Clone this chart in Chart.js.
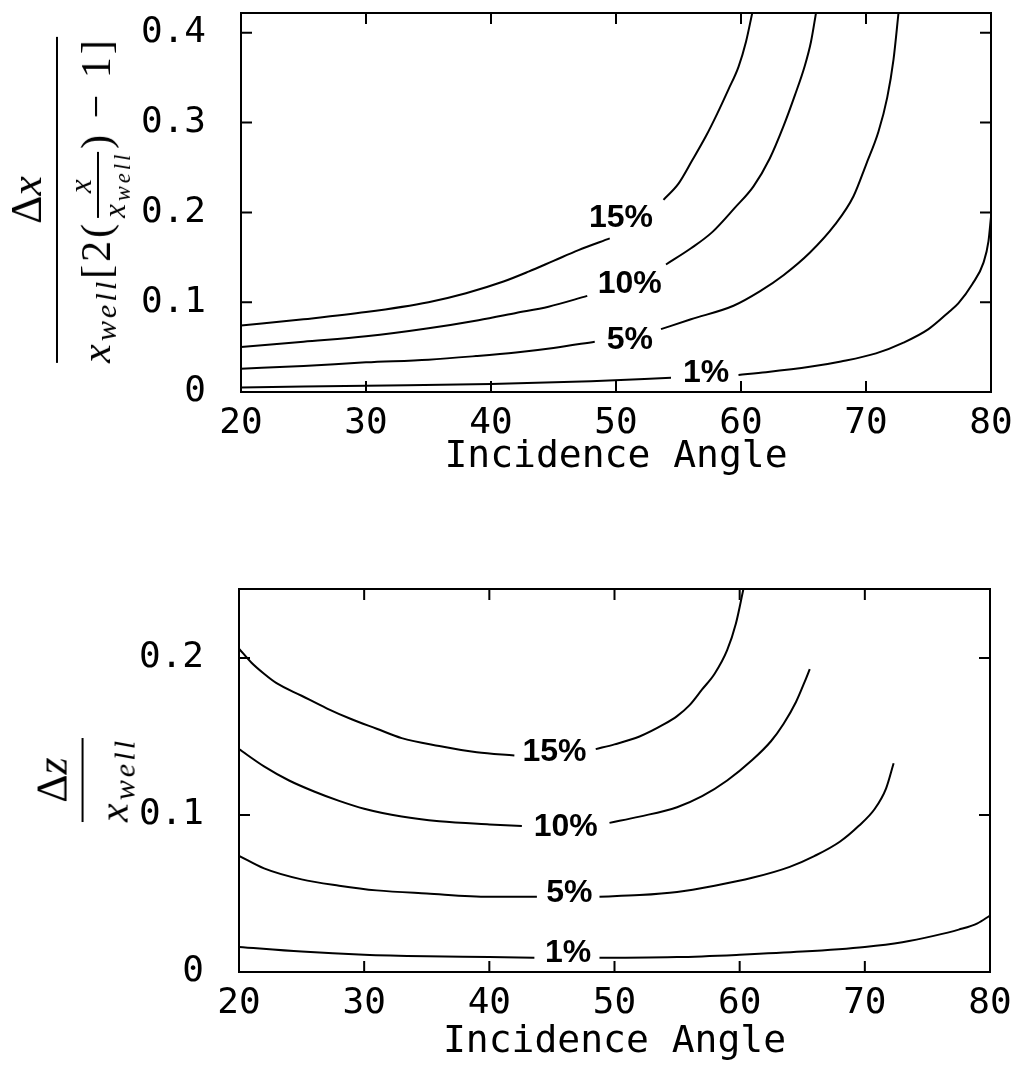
<!DOCTYPE html>
<html><head><meta charset="utf-8">
<script src="https://cdn.jsdelivr.net/npm/chart.js@4.4.1/dist/chart.umd.min.js"></script>
<style>
html,body{margin:0;padding:0;background:#fff;}
#page{position:relative;width:1017px;height:1074px;overflow:hidden;background:#fff;}
canvas{position:absolute;left:0;}
#c1{top:0;}
#c2{top:520px;}
.ytitle{position:absolute;transform:translate(-50%,-50%) rotate(-90deg);font-family:"Liberation Serif","DejaVu Serif",serif;line-height:1;white-space:nowrap;color:#000;}
.frac{display:flex;flex-direction:column;align-items:center;}
.bar{align-self:stretch;height:2px;background:#000;margin:7px 0 9px 0;}
.num{font-size:44px;}
.den{font-size:42px;letter-spacing:3px;}
.den sub{font-size:0.72em;vertical-align:-0.22em;}
.ifrac{display:inline-flex;flex-direction:column;align-items:center;vertical-align:middle;font-size:0.74em;margin:0 3px;line-height:0.9;}
.ibar{align-self:stretch;height:2px;background:#000;margin:2px 0;}
.up{font-style:normal;}
</style>
</head><body>
<div id="page">
<canvas id="c1" width="1017" height="520"></canvas>
<canvas id="c2" width="1017" height="554"></canvas>
<div id="yt1" class="ytitle" style="left:69px;top:200px;">
  <div class="frac">
    <div class="num"><span class="up">Δ</span><i>x</i></div>
    <div class="bar"></div>
    <div class="den"><i>x</i><sub><i>well</i></sub>[2(<span class="ifrac"><span><i>x</i></span><span class="ibar"></span><span><i>x</i><sub><i>well</i></sub></span></span>) − 1]</div>
  </div>
</div>
<div id="yt2" class="ytitle" style="left:85px;top:780px;">
  <div class="frac">
    <div class="num"><span class="up">Δ</span><i>z</i></div>
    <div class="bar"></div>
    <div class="den"><i>x</i><sub><i>well</i></sub></div>
  </div>
</div>
</div>
<script>
// ---------- DATA ----------
const xTickValues = [20, 30, 40, 50, 60, 70, 80];
const xAxisTitle = 'Incidence Angle';

// Top panel: Δx / (x_well[2(x/x_well) - 1])  (null = gap for the contour label)
const top15x = [20, 25, 30, 35, 38, 41, 43, 45, 47, 49.5, 51.5, 53.8, 55, 56.1, 57.2, 58.1, 59, 59.8, 60.4, 60.9];
const top15y = [0.074, 0.081, 0.089, 0.100, 0.110, 0.123, 0.134, 0.146, 0.158, 0.171, null, 0.214, 0.232, 0.258, 0.285, 0.310, 0.337, 0.362, 0.390, 0.422];
const top10x = [20, 25, 30, 35, 39, 42, 44.6, 47.7, 51, 54, 56, 57.7, 59.5, 61, 62.3, 63.4, 64.3, 65.1, 65.6, 66];
const top10y = [0.050, 0.056, 0.062, 0.071, 0.080, 0.088, 0.095, 0.107, null, 0.142, 0.160, 0.178, 0.205, 0.229, 0.260, 0.296, 0.330, 0.363, 0.390, 0.422];
const top5x = [20, 25, 30, 35, 38.8, 42, 45, 48.3, 51, 53.6, 56, 59.4, 61.5, 63.4, 65.5, 67.5, 69, 70, 71, 71.7, 72.2, 72.6];
const top5y = [0.026, 0.029, 0.033, 0.036, 0.040, 0.044, 0.049, 0.056, null, 0.070, 0.081, 0.096, 0.112, 0.130, 0.155, 0.186, 0.218, 0.253, 0.290, 0.328, 0.370, 0.422];
const top1x = [20, 30, 40, 48, 54.4, 57, 59.8, 62, 65.5, 68, 70.8, 73, 75, 76.7, 77.4, 78.5, 79.4, 79.8, 80];
const top1y = [0.005, 0.007, 0.009, 0.012, 0.016, null, 0.019, 0.022, 0.028, 0.034, 0.043, 0.055, 0.070, 0.090, 0.099, 0.120, 0.144, 0.168, 0.195];
const topLabels = ['15%', '10%', '5%', '1%'];
const topLabelX = [50.4, 51.1, 51.1, 57.2];
const topLabelY = [0.194, 0.120, 0.058, 0.021];
const topYTicks = [0, 0.1, 0.2, 0.3, 0.4];

// Bottom panel: Δz / x_well
const bot15x = [20, 21, 22, 23, 25, 27, 29, 31, 33, 36, 39, 42, 45, 48.5, 50, 52, 54, 55, 56, 57, 58, 59, 59.7, 60.3];
const bot15y = [0.206, 0.197, 0.190, 0.184, 0.176, 0.168, 0.161, 0.155, 0.149, 0.144, 0.140, 0.138, null, 0.142, 0.145, 0.150, 0.158, 0.163, 0.170, 0.180, 0.190, 0.205, 0.222, 0.244];
const bot10x = [20, 22, 24, 26, 28, 30, 33, 36, 40, 42.6, 46, 49.6, 52, 55, 57, 59, 61, 62.5, 63.5, 64.5, 65.2, 65.6];
const bot10y = [0.142, 0.131, 0.122, 0.115, 0.109, 0.104, 0.099, 0.096, 0.094, 0.093, null, 0.095, 0.099, 0.105, 0.112, 0.122, 0.135, 0.147, 0.158, 0.172, 0.185, 0.193];
const bot5x = [20, 22, 25, 28, 31, 35, 40, 43.8, 46, 48.8, 52, 55, 58, 61, 64, 66, 68, 69.5, 70.8, 71.7, 72.3];
const bot5y = [0.074, 0.066, 0.059, 0.055, 0.052, 0.050, 0.048, 0.048, null, 0.048, 0.049, 0.051, 0.055, 0.060, 0.067, 0.074, 0.083, 0.093, 0.104, 0.117, 0.133];
const bot1x = [20, 25, 30, 35, 40, 43.6, 46, 48.8, 55, 60, 65, 70, 73, 75.5, 77.5, 79, 80];
const bot1y = [0.016, 0.013, 0.011, 0.010, 0.0095, 0.009, null, 0.009, 0.0095, 0.011, 0.013, 0.016, 0.019, 0.023, 0.027, 0.031, 0.036];
const botLabels = ['15%', '10%', '5%', '1%'];
const botLabelX = [45.2, 46.1, 46.4, 46.3];
const botLabelY = [0.140, 0.092, 0.050, 0.012];
const botYTicks = [0, 0.1, 0.2];

// ---------- CHARTS ----------
const toPts = (xs, ys) => xs.map((x, i) => ({x: x, y: ys[i]}));
const lineDs = (xs, ys, name) => ({
  label: name, data: toPts(xs, ys), borderColor: '#000', borderWidth: 2,
  pointRadius: 0, fill: false, spanGaps: false, cubicInterpolationMode: 'monotone'
});

const frameTicks = {
  id: 'frameTicks',
  afterDraw(chart) {
    const {ctx, chartArea: a, scales: {x, y}} = chart;
    ctx.save();
    ctx.strokeStyle = '#000';
    ctx.lineWidth = 2;
    ctx.strokeRect(a.left, a.top, a.right - a.left, a.bottom - a.top);
    const L = 11;
    ctx.beginPath();
    x.ticks.forEach(t => {
      if (t.value > x.min && t.value < x.max) {
        const px = x.getPixelForValue(t.value);
        ctx.moveTo(px, a.bottom); ctx.lineTo(px, a.bottom - L);
        ctx.moveTo(px, a.top); ctx.lineTo(px, a.top + L);
      }
    });
    y.ticks.forEach(t => {
      if (t.value > y.min && t.value < y.max) {
        const py = y.getPixelForValue(t.value);
        ctx.moveTo(a.left, py); ctx.lineTo(a.left + L, py);
        ctx.moveTo(a.right, py); ctx.lineTo(a.right - L, py);
      }
    });
    ctx.stroke();
    ctx.restore();
  }
};

function labelPlugin(texts, xs, ys) {
  return {
    id: 'contourLabels',
    afterDatasetsDraw(chart) {
      const {ctx, scales: {x, y}} = chart;
      ctx.save();
      ctx.font = 'bold 32px "Liberation Sans", Arial, sans-serif';
      ctx.fillStyle = '#000';
      ctx.textAlign = 'center';
      ctx.textBaseline = 'middle';
      texts.forEach((t, i) => ctx.fillText(t, x.getPixelForValue(xs[i]), y.getPixelForValue(ys[i])));
      ctx.restore();
    }
  };
}

const tickFont = {family: '"DejaVu Sans Mono", monospace', size: 36, weight: 'normal'};
const titleFont = {family: '"DejaVu Sans Mono", monospace', size: 38, weight: 'normal'};

function makeChart(id, datasets, yMax, yTicks, pad, xH, yW, titlePadBottom, labels) {
  return new Chart(document.getElementById(id), {
    type: 'line',
    data: {datasets: datasets},
    plugins: [frameTicks, labels],
    options: {
      responsive: false, animation: false, devicePixelRatio: 1,
      layout: {padding: pad},
      plugins: {legend: {display: false}, tooltip: {enabled: false}},
      scales: {
        x: {
          type: 'linear', min: xTickValues[0], max: xTickValues[xTickValues.length - 1],
          grid: {display: false}, border: {display: false},
          ticks: {stepSize: 10, color: '#000', font: tickFont, padding: 2, maxRotation: 0, autoSkip: false, includeBounds: false},
          title: {display: true, text: xAxisTitle, color: '#000', font: titleFont, padding: {top: 0, bottom: titlePadBottom}},
          afterFit: s => { s.height = xH; s.paddingLeft = 0; s.paddingRight = 0; }
        },
        y: {
          type: 'linear', min: 0, max: yMax,
          grid: {display: false}, border: {display: false},
          afterBuildTicks: s => { s.ticks = yTicks.map(v => ({value: v})); },
          ticks: {color: '#000', font: tickFont, padding: 27,
                  callback: v => (v === 0 ? '0' : v.toFixed(1))},
          afterFit: s => { s.width = yW; s.paddingTop = 0; s.paddingBottom = 0; }
        }
      }
    }
  });
}

makeChart('c1', [
  lineDs(top15x, top15y, '15%'), lineDs(top10x, top10y, '10%'),
  lineDs(top5x, top5y, '5%'), lineDs(top1x, top1y, '1%')
], 0.422, topYTicks, {left: 0, right: 26, top: 13, bottom: 0}, 128, 241, 40,
   labelPlugin(topLabels, topLabelX, topLabelY));

makeChart('c2', [
  lineDs(bot15x, bot15y, '15%'), lineDs(bot10x, bot10y, '10%'),
  lineDs(bot5x, bot5y, '5%'), lineDs(bot1x, bot1y, '1%')
], 0.244, botYTicks, {left: 0, right: 27, top: 69, bottom: 0}, 102, 239, 9,
   labelPlugin(botLabels, botLabelX, botLabelY));
</script>
</body></html>
